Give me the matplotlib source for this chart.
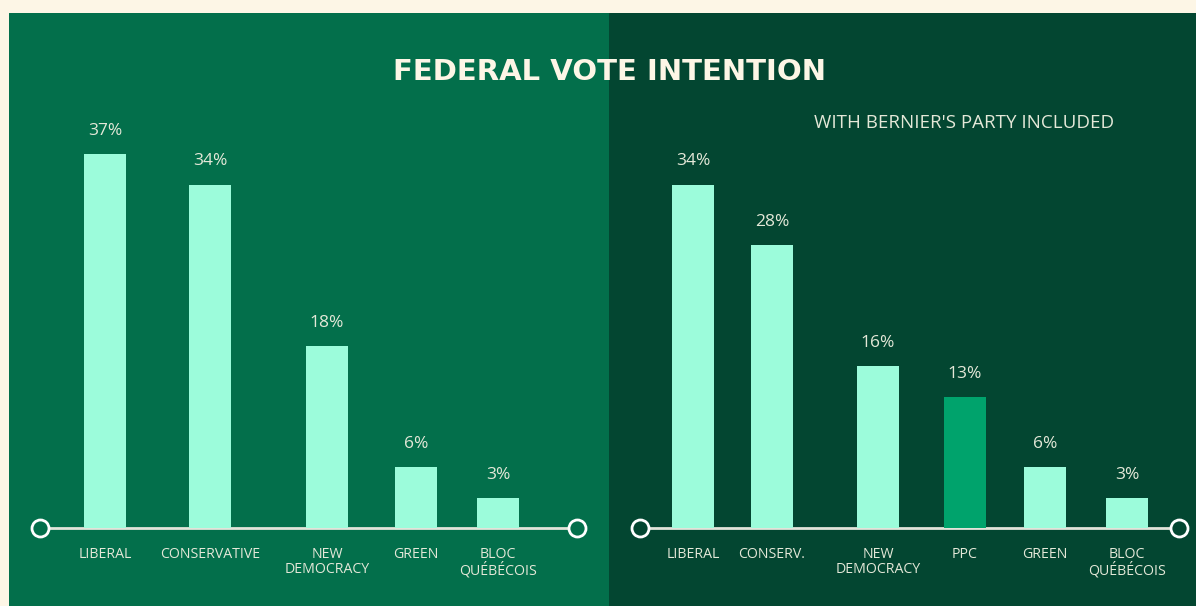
import numpy as np
import matplotlib.pyplot as plt

# data
left_parties = ["LIBERAL", "CONSERVATIVE", "NEW\nDEMOCRACY", "GREEN", "BLOC\nQUÉBÉCOIS"]
left_values = [37, 34, 18, 6, 3]
right_parties = ["LIBERAL", "CONSERV.", "NEW\nDEMOCRACY", "PPC", "GREEN", "BLOC\nQUÉBÉCOIS"]
right_values = [34, 28, 16, 13, 6, 3]
title = "FEDERAL VOTE INTENTION"
subtitle = "WITH BERNIER'S PARTY INCLUDED"

# layout (pixel columns)
left_x = [105, 210, 327, 416, 498]
right_x = [693, 772, 878, 965, 1045, 1127]

W, H = 1196, 606
bg = "#fdf6e6"
left_bg = "#036f4b"
right_bg = "#034631"
bar_c = "#9cfcdb"
ppc_c = "#00a36c"
txt_c = "#e4e8d8"
line_c = "#e2e4da"
font = "Open Sans"

px = 10.1  # pixels per percentage point
base = 528
y0 = -(H - base) / px
y1 = (base - 13) / px

fig = plt.figure(figsize=(W / 100, H / 100), dpi=100)
fig.patch.set_facecolor(bg)


def panel(x0, x1, bgc, parties, values, xs, colors, line_ends):
    ax = fig.add_axes([x0 / W, 0, (x1 - x0) / W, (H - 13) / H])
    ax.set_xlim(x0, x1)
    ax.set_ylim(y0, y1)
    ax.axis("off")
    ax.add_patch(plt.Rectangle((0, 0), 1, 1, transform=ax.transAxes,
                               color=bgc, zorder=0))
    ax.plot(line_ends, [0, 0], color=line_c, lw=2, zorder=1)
    ax.scatter(line_ends, [0, 0], s=150, facecolor=bgc, edgecolor="white",
               lw=2, zorder=3, clip_on=False)
    ax.bar(xs, values, width=42, color=colors, zorder=2)
    for x, v, p in zip(xs, values, parties):
        ax.text(x, v + 1.5, f"{v}%", ha="center", va="bottom", color=txt_c,
                fontsize=12.5, family=font)
        ax.text(x, -1.9, p, ha="center", va="top", color=txt_c,
                fontsize=10.2, family=font, linespacing=0.95)
    return ax


panel(9, 609, left_bg, left_parties, left_values, left_x,
      [bar_c] * len(left_values), [40, 577])
rc = [ppc_c if p == "PPC" else bar_c for p in right_parties]
panel(609, 1196, right_bg, right_parties, right_values, right_x, rc, [640, 1179])

fig.text(609 / W, 1 - 72 / H, title, ha="center", va="center", color="#fdf6e6",
         fontsize=21, fontweight="bold", family="DejaVu Sans")
fig.text(964 / W, 1 - 123 / H, subtitle, ha="center", va="center", color=txt_c,
         fontsize=13.5, family=font)

fig.savefig("out.png", dpi=100, facecolor=bg)
